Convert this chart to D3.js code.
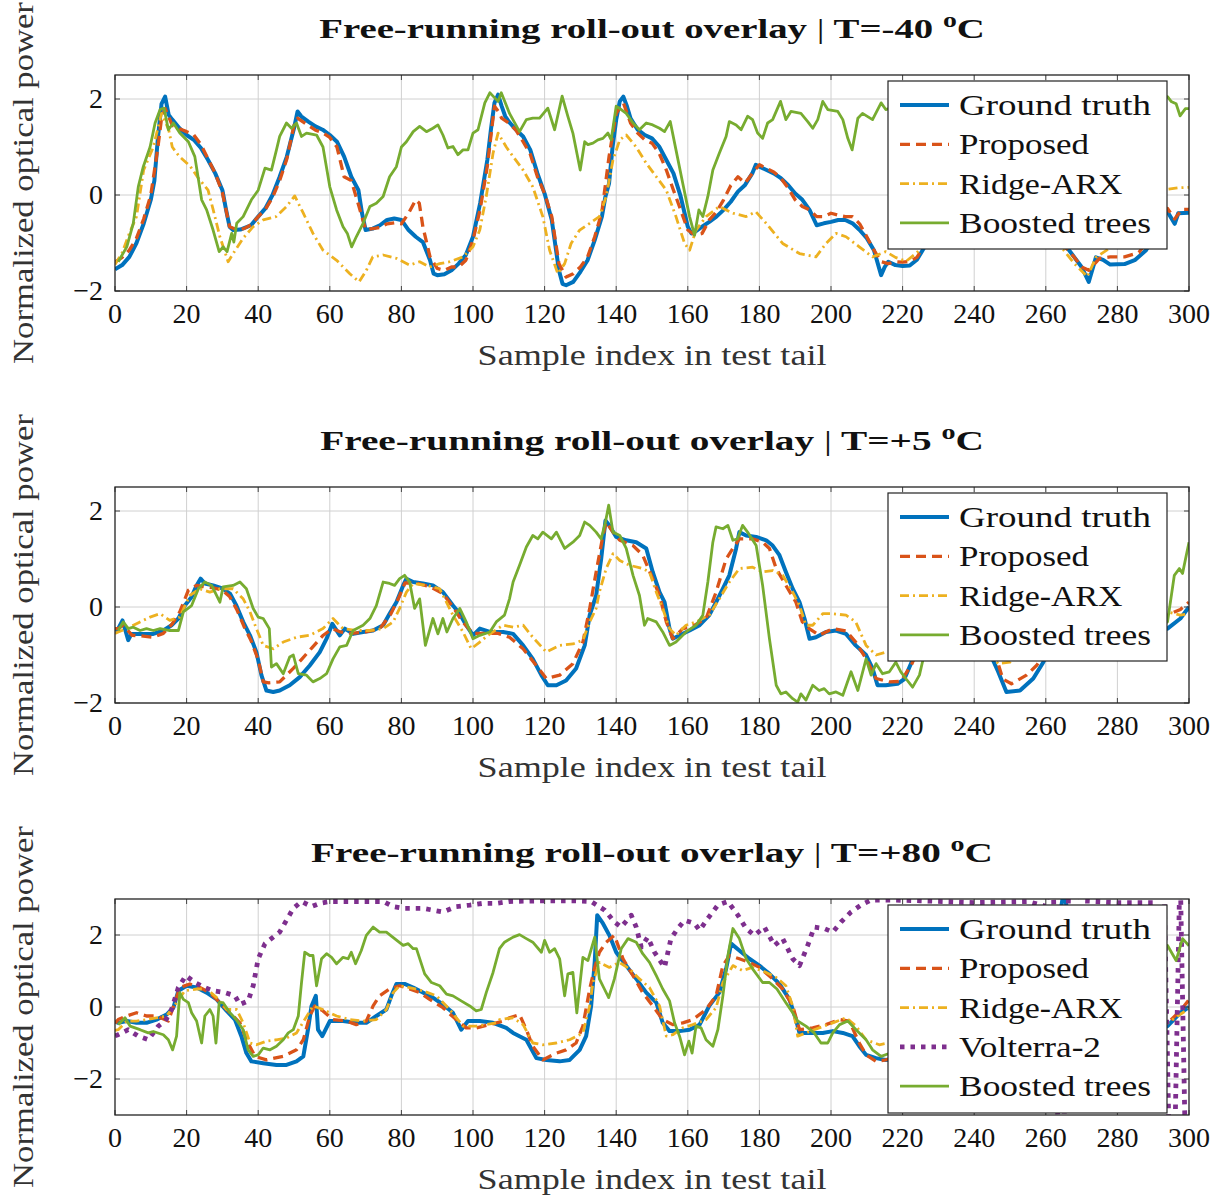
<!DOCTYPE html>
<html>
<head>
<meta http-equiv="Content-Type" content="text/html; charset=utf-8">
<script src="https://cdnjs.cloudflare.com/ajax/libs/d3/7.8.5/d3.min.js"></script>
<style>
  body { margin: 0; background: #fff; }
  text { font-family: "Liberation Serif", "DejaVu Serif", serif; fill: #111; }
</style>
</head>
<body>
<div class="chart"></div>
<script>
// ---------------------------------------------------------------- DATA
// points are [sample index, normalized power]

var xTicks = [0, 20, 40, 60, 80, 100, 120, 140, 160, 180, 200, 220, 240, 260, 280, 300];
var titles = ["T=-40 ", "T=+5 ", "T=+80 "];
var xLabel = "Sample index in test tail";
var yLabel = "Normalized optical power";

// ---- T = -40 C
var gt40 = [[0,-1.55],[2,-1.46],[4,-1.29],[6,-1.0],[8,-0.6],[10,-0.1],[11,0.3],[12,1.2],[13,1.9],[14,2.05],[15,1.67],[16,1.57],[18,1.39],[20,1.25],[22,1.15],[24,0.98],[26,0.73],[28,0.45],[30,0.1],[31,-0.3],[32,-0.66],[33,-0.73],[35,-0.72],[38,-0.63],[40,-0.45],[42,-0.28],[44,0],[46,0.38],[48,0.8],[50,1.39],[51,1.74],[52,1.64],[54,1.53],[56,1.43],[58,1.36],[60,1.25],[62,1.11],[64,0.8],[66,0.38],[68,0.1],[69,-0.38],[70,-0.73],[72,-0.7],[74,-0.63],[76,-0.52],[78,-0.49],[80,-0.52],[82,-0.73],[84,-0.87],[86,-0.98],[88,-1.36],[89,-1.64],[90,-1.67],[92,-1.65],[94,-1.57],[96,-1.43],[98,-1.25],[100,-0.87],[102,-0.17],[104,0.73],[105,1.36],[106,1.92],[107,2.09],[108,1.85],[109,1.64],[110,1.53],[112,1.36],[114,1.22],[116,0.94],[118,0.45],[120,0.03],[122,-0.52],[124,-1.57],[125,-1.85],[126,-1.88],[128,-1.81],[130,-1.6],[132,-1.36],[134,-0.94],[136,-0.45],[137,-0.03],[138,0.24],[139,1.01],[140,1.57],[141,1.95],[142,2.05],[143,1.85],[144,1.6],[146,1.36],[148,1.25],[150,1.18],[152,1.01],[154,0.73],[156,0.45],[158,-0.03],[160,-0.66],[161,-0.8],[162,-0.77],[164,-0.66],[166,-0.56],[168,-0.45],[170,-0.31],[172,-0.14],[174,0.07],[176,0.21],[178,0.45],[179,0.63],[180,0.59],[182,0.52],[184,0.45],[186,0.35],[188,0.21],[190,0.03],[192,-0.1],[194,-0.31],[196,-0.63],[198,-0.59],[200,-0.56],[202,-0.52],[204,-0.52],[206,-0.59],[208,-0.73],[210,-0.9],[212,-1.15],[214,-1.67],[215,-1.5],[216,-1.39],[218,-1.46],[220,-1.48],[222,-1.47],[224,-1.35],[226,-1.1],[230,-0.6],[235,-0.2],[240,0.1],[245,0.2],[250,-0.1],[255,-0.5],[260,-0.8],[265,-1.0],[268,-1.3],[270,-1.5],[272,-1.81],[274,-1.3],[276,-1.35],[278,-1.45],[282,-1.44],[285,-1.35],[288,-1.15],[290,-0.9],[293,-0.4],[294,-0.35],[296,-0.6],[297,-0.38],[300,-0.37]];
var prop40 = [[0,-1.4],[2,-1.3],[4,-1.15],[6,-0.9],[8,-0.5],[10,0.0],[12,1.0],[13,1.6],[14,1.8],[16,1.45],[18,1.38],[20,1.32],[22,1.25],[24,1.05],[26,0.75],[28,0.45],[30,0.05],[32,-0.66],[34,-0.72],[36,-0.7],[38,-0.62],[40,-0.45],[42,-0.3],[44,-0.05],[46,0.3],[48,0.75],[50,1.45],[51,1.6],[52,1.55],[54,1.45],[56,1.35],[58,1.3],[60,1.2],[62,1.0],[64,0.38],[66,0.3],[68,-0.2],[70,-0.72],[72,-0.7],[74,-0.68],[76,-0.6],[78,-0.58],[80,-0.6],[82,-0.38],[84,-0.1],[85,-0.17],[86,-0.66],[88,-1.29],[90,-1.53],[92,-1.57],[94,-1.5],[96,-1.5],[98,-1.36],[100,-0.94],[102,-0.3],[104,0.6],[106,1.85],[107,1.75],[108,1.6],[110,1.5],[112,1.35],[114,1.11],[116,0.85],[118,0.38],[120,0.03],[122,-0.45],[124,-1.43],[126,-1.71],[128,-1.64],[130,-1.5],[132,-1.29],[134,-0.87],[136,-0.35],[138,0.8],[140,1.7],[142,1.92],[144,1.5],[146,1.29],[148,1.15],[150,1.08],[152,0.87],[154,0.52],[156,0.1],[158,-0.31],[160,-0.73],[162,-0.84],[164,-0.8],[166,-0.52],[168,-0.35],[170,-0.1],[172,0.2],[174,0.38],[176,0.25],[178,0.45],[180,0.63],[182,0.55],[184,0.48],[186,0.35],[188,0.15],[190,-0.1],[192,-0.24],[194,-0.31],[196,-0.45],[198,-0.45],[200,-0.38],[202,-0.42],[204,-0.45],[206,-0.45],[208,-0.6],[210,-0.87],[212,-1.15],[214,-1.39],[216,-1.43],[218,-1.39],[220,-1.4],[222,-1.38],[224,-1.3],[226,-1.05],[230,-0.6],[240,0.0],[250,-0.15],[260,-0.8],[265,-1.05],[268,-1.3],[270,-1.5],[272,-1.57],[275,-1.32],[278,-1.29],[282,-1.29],[286,-1.2],[290,-0.8],[294,-0.28],[296,-0.5],[298,-0.3],[300,-0.3]];
var ridge40 = [[0,-1.45],[2,-1.2],[4,-0.8],[6,-0.45],[8,0.52],[10.7,1.0],[13,1.7],[15,1.36],[16,1.0],[18,0.8],[21,0.6],[23,0.38],[26,0.1],[27.4,-0.3],[29.3,-0.87],[31.6,-1.39],[33,-1.22],[35.8,-0.9],[38.6,-0.66],[41.4,-0.52],[45,-0.45],[47.9,-0.24],[50.2,-0.02],[52.6,-0.38],[55.3,-0.8],[58.1,-1.15],[61.9,-1.36],[65.6,-1.64],[68.2,-1.81],[70.2,-1.57],[72,-1.29],[74.9,-1.25],[78.6,-1.32],[82.3,-1.46],[85.1,-1.39],[87.9,-1.5],[90.7,-1.43],[93.5,-1.39],[97.2,-1.29],[100,-1.08],[101.9,-0.73],[103.7,-0.03],[105.6,0.87],[107,1.29],[109.3,1.0],[111.2,0.8],[114,0.52],[116.7,0.17],[119.5,-0.45],[121.4,-1.15],[123.7,-1.64],[125.6,-1.43],[127.4,-1.01],[129.8,-0.73],[132.6,-0.59],[135.3,-0.45],[137.2,-0.03],[139.1,0.73],[141,1.15],[142.8,1.25],[145.6,1.0],[148.4,0.66],[151.2,0.38],[154,0.1],[156.7,-0.45],[159.1,-1.01],[160.5,-1.15],[162.3,-0.73],[165.1,-0.45],[168.8,-0.24],[172.6,-0.38],[176.3,-0.45],[179,-0.35],[181.9,-0.59],[186.5,-1.01],[191.2,-1.22],[195.8,-1.29],[198.6,-1.01],[201.4,-0.8],[204.2,-0.87],[207.9,-1.08],[211.6,-1.29],[215.3,-1.18],[218,-1.3],[221,-1.38],[224,-1.2],[230,-0.7],[240,-0.3],[250,-0.5],[260,-0.9],[265,-1.15],[268,-1.43],[271.6,-1.7],[274,-1.3],[280,-1.0],[290,-0.2],[294,0.12],[297,0.15],[300,0.16]];
var boost40 = [[0.9,-1.39],[3.3,-1.08],[5.1,-0.59],[6.5,0.17],[7.9,0.59],[9.8,1.0],[11.2,1.5],[12.6,1.78],[13.7,1.81],[14.9,1.36],[16.3,1.5],[18.1,1.29],[20.5,1.11],[22.3,0.8],[24.2,-0.1],[25.6,-0.31],[27.4,-0.73],[29.1,-1.18],[30.2,-1.08],[31.3,-1.18],[32.6,-0.8],[33.2,-0.98],[34,-0.59],[35.8,-0.45],[38.1,-0.1],[40,0.1],[41.9,0.56],[43.7,0.52],[45.1,0.94],[46,1.22],[47.9,1.5],[49.3,1.39],[50.7,1.5],[52.1,1.22],[53.5,1.29],[56.3,1.25],[58.1,1.0],[60,0.17],[61.9,-0.31],[63.7,-0.66],[64.9,-0.8],[66.1,-1.08],[67.4,-0.87],[69.3,-0.59],[71.2,-0.24],[73,-0.17],[74.9,-0.03],[76.7,0.38],[78.6,0.59],[80,1.0],[81.4,1.11],[83.3,1.32],[85.1,1.43],[87,1.32],[88.8,1.39],[90.2,1.46],[91.6,1.25],[93,0.98],[94.4,1.01],[95.8,0.84],[97.2,0.94],[98.6,0.94],[100,1.29],[101.4,1.36],[103.3,1.92],[104.7,2.13],[105.6,2.06],[107,1.95],[107.9,2.13],[110.2,1.7],[113,1.32],[114.9,1.57],[116.7,1.6],[118.6,1.6],[120.9,1.81],[122.8,1.36],[124.9,2.06],[126.5,1.64],[127.9,1.29],[129.95,0.52],[131.2,1.11],[132.1,1.05],[133.5,1.08],[134.9,1.15],[136.3,1.18],[137.7,1.29],[138.6,1.15],[140,1.85],[141.4,1.78],[142.8,1.7],[144.7,1.5],[146.5,1.36],[148.4,1.5],[150.2,1.46],[152.1,1.39],[153.5,1.32],[155.1,1.53],[156.7,0.94],[158.6,0.24],[160.5,-0.45],[161.9,-0.84],[163.1,-0.31],[164.2,-0.45],[165.6,-0.03],[167,0.52],[168.8,0.87],[170.7,1.22],[171.6,1.53],[173.5,1.46],[174.9,1.36],[176.7,1.64],[178.1,1.57],[179.5,1.29],[180.9,1.18],[182.3,1.5],[183.7,1.57],[185.9,1.95],[187.4,1.57],[188.8,1.74],[191.6,1.7],[193.5,1.53],[194.9,1.39],[196.3,1.57],[197.7,1.95],[199.1,1.78],[201.9,1.74],[203.3,1.57],[204.7,1.18],[205.9,0.94],[207.5,1.6],[208.8,1.7],[211.6,1.57],[214,1.92],[215.3,1.78],[218,1.85],[222,1.7],[228,1.9],[235,1.6],[242,1.8],[250,1.95],[258,1.7],[265,1.85],[272,1.6],[280,1.9],[288,1.8],[292,2.0],[294,2.05],[295,1.95],[296.4,1.9],[297.5,1.65],[299,1.8],[300,1.8]];

// ---- T = +5 C
var gt5 = [[0,-0.5],[0.9,-0.45],[2.1,-0.28],[3.7,-0.69],[4.6,-0.56],[7.9,-0.56],[10.7,-0.56],[13.5,-0.49],[15.8,-0.38],[17.7,-0.24],[19.5,0.03],[21.4,0.21],[22.8,0.45],[23.9,0.59],[25.1,0.49],[27.4,0.45],[30.2,0.38],[32.1,0.28],[33.9,0.03],[35.8,-0.31],[37.7,-0.59],[39.5,-0.94],[40.9,-1.42],[42.3,-1.74],[44.2,-1.77],[46,-1.74],[48.8,-1.63],[51.6,-1.46],[54.4,-1.22],[57.2,-0.94],[59.1,-0.66],[60.7,-0.35],[62.8,-0.59],[64.2,-0.45],[66.5,-0.56],[69.3,-0.52],[72.1,-0.49],[74.9,-0.38],[76.7,-0.14],[78.6,0.1],[80.5,0.45],[81.4,0.59],[83.3,0.52],[86,0.49],[88.8,0.45],[91.6,0.31],[94.4,0.03],[96.3,-0.14],[98.1,-0.38],[100,-0.59],[101.9,-0.45],[104.7,-0.52],[108.4,-0.52],[111.2,-0.56],[114,-0.8],[116.7,-1.08],[119.1,-1.42],[120.9,-1.63],[123.3,-1.63],[126,-1.53],[128.8,-1.28],[131.2,-0.8],[132.6,-0.17],[134.4,0.24],[135.8,1.0],[137,1.8],[138.1,1.7],[140,1.46],[142.8,1.39],[145.6,1.35],[148.4,1.22],[150.2,0.73],[152.1,0.31],[153.5,0.1],[154.9,-0.45],[155.8,-0.66],[157.7,-0.59],[160.5,-0.49],[163.3,-0.38],[166,-0.17],[167.9,0.1],[169.8,0.38],[171.6,0.66],[173.5,1.22],[174.4,1.56],[176.3,1.49],[179.1,1.46],[181.9,1.39],[183.7,1.28],[185.6,1.08],[187.4,0.73],[189.3,0.38],[191.2,0.1],[192.6,-0.24],[194,-0.66],[195.8,-0.63],[198.6,-0.52],[201.4,-0.49],[204.2,-0.56],[206.9,-0.8],[209.8,-1.0],[211.6,-1.28],[213,-1.63],[215.3,-1.63],[218.6,-1.6],[220.5,-1.5],[222.5,-1.15],[226,-0.6],[230,-0.2],[235,0.1],[240,-0.3],[244,-0.9],[246.7,-1.35],[249,-1.77],[252.8,-1.74],[256.5,-1.49],[259.3,-1.15],[262,-0.7],[266,-0.2],[272,0.0],[278,-0.3],[284,-0.5],[290,-0.55],[294,-0.45],[297.6,-0.24],[300,0.0]];
var prop5 = [[0,-0.45],[0.9,-0.45],[2.3,-0.38],[4.8,-0.59],[7,-0.6],[10.7,-0.63],[13.5,-0.55],[16,-0.35],[18.1,-0.1],[20.5,0.35],[22.8,0.45],[25,0.42],[27.5,0.4],[30,0.35],[32,0.22],[34,-0.05],[36,-0.4],[38,-0.7],[40,-1.1],[41.4,-1.56],[43,-1.58],[46,-1.56],[49.8,-1.28],[52,-1.1],[55,-0.85],[58,-0.6],[60.7,-0.45],[63,-0.52],[66,-0.55],[70,-0.52],[74,-0.45],[77,-0.15],[79,0.15],[81,0.5],[84,0.5],[88,0.42],[91.6,0.28],[94.4,0.0],[97,-0.3],[100,-0.55],[103,-0.55],[107,-0.55],[110.2,-0.63],[114,-0.87],[117.7,-1.22],[120.5,-1.49],[124.2,-1.42],[127.9,-1.18],[130.7,-0.73],[132.6,-0.03],[134.4,0.73],[136.3,1.49],[137.2,1.77],[139.1,1.56],[141,1.39],[144.7,1.28],[147.4,1.08],[150.2,0.59],[152.1,0.24],[154,-0.31],[155.8,-0.66],[158.6,-0.45],[161.4,-0.4],[165.1,-0.24],[167.9,0.31],[170.7,1.0],[172.6,1.22],[174.4,1.42],[178.1,1.42],[180.9,1.35],[182.8,1.22],[184.7,0.8],[187.4,0.45],[190.2,0.1],[192,-0.31],[193.9,-0.45],[196.7,-0.59],[200.5,-0.45],[204.2,-0.5],[206.9,-0.73],[209.8,-1.08],[212.6,-1.49],[216.3,-1.56],[219.5,-1.55],[222.5,-1.2],[226,-0.6],[232,-0.1],[238,-0.2],[244,-0.8],[246.7,-1.18],[248,-1.5],[250.4,-1.6],[254.6,-1.42],[257.4,-1.22],[262,-0.7],[270,-0.1],[280,-0.3],[290,-0.4],[294,-0.17],[297.6,-0.05],[300,0.1]];
var ridge5 = [[0,-0.55],[0.9,-0.52],[3.3,-0.45],[7,-0.31],[9.8,-0.21],[12.6,-0.14],[15.3,-0.28],[18.1,-0.21],[20.9,0.24],[23.7,0.38],[26.5,0.31],[29.3,0.38],[33,0.38],[35.8,0.17],[37.7,-0.1],[39.5,-0.45],[41.4,-0.8],[44.2,-0.87],[47,-0.73],[50.7,-0.63],[54.4,-0.59],[58.1,-0.45],[60.9,-0.24],[63.7,-0.45],[67.4,-0.49],[71.2,-0.49],[74.9,-0.45],[77.7,-0.31],[79.5,-0.03],[81.4,0.31],[83.3,0.49],[87,0.45],[90.7,0.38],[94.4,-0.17],[97.2,-0.52],[99.5,-0.87],[101.9,-0.73],[104.7,-0.56],[108.4,-0.38],[111.2,-0.42],[114,-0.38],[116.7,-0.63],[120.5,-0.94],[124.2,-0.8],[127.9,-0.77],[130.7,-0.69],[132.6,-0.31],[134.4,-0.03],[135.3,0.31],[137.2,0.8],[139.1,1.11],[141,0.97],[143.7,0.87],[147.4,0.8],[149.3,0.73],[151.2,0.31],[153,-0.03],[154.9,-0.45],[156.7,-0.59],[159.5,-0.38],[162.3,-0.31],[166,-0.17],[168.8,0.17],[171.6,0.52],[174.4,0.8],[178.1,0.83],[180.9,0.73],[183.7,0.76],[186.5,0.66],[189.3,0.31],[191.2,0.03],[193,-0.38],[194.9,-0.38],[197.7,-0.14],[200.5,-0.14],[204.2,-0.17],[206.9,-0.31],[209.8,-0.8],[212.6,-1.0],[215.3,-0.94],[218,-0.9],[222,-0.8],[230,-0.3],[240,-0.6],[246.7,-1.18],[250,-1.15],[255,-0.8],[262,-0.4],[272,-0.2],[282,-0.2],[290,-0.2],[294,-0.1],[297.6,-0.17],[300,-0.14]];
var boost5 = [[0.9,-0.49],[2.3,-0.31],[3.7,-0.45],[5.1,-0.42],[7,-0.49],[8.8,-0.45],[10.7,-0.49],[12.6,-0.45],[15.3,-0.49],[17.7,-0.49],[19.1,-0.1],[21.4,0.03],[23.3,0.38],[25.1,0.52],[27,0.45],[29.3,0.1],[30.2,0.42],[33,0.45],[34.9,0.52],[36.7,0.38],[38.6,-0.03],[40,-0.21],[41.4,-0.24],[43.1,-0.45],[43.7,-1.25],[45.1,-1.18],[47,-1.39],[48.8,-1.04],[49.8,-1.0],[51.2,-1.39],[53.5,-1.42],[55.3,-1.56],[57.2,-1.49],[59.1,-1.39],[60.9,-1.08],[62.8,-0.83],[64.7,-0.8],[66.5,-0.49],[69.3,-0.38],[71.2,-0.24],[73,0.03],[74.9,0.52],[76.7,0.49],[78.1,0.45],[79.5,0.59],[80.9,0.66],[82.3,0.52],[83.7,-0.03],[85.1,0.17],[86.7,-0.8],[88.8,-0.24],[90.2,-0.56],[91.6,-0.24],[92.7,-0.52],[94.4,-0.24],[96.3,-0.03],[98.1,-0.31],[100,-0.66],[101.9,-0.59],[104.7,-0.52],[106.5,-0.31],[108.8,-0.17],[110.2,0.17],[111.2,0.52],[113,0.87],[114.9,1.25],[116.7,1.49],[118.1,1.42],[119.5,1.56],[121.9,1.42],[123.3,1.56],[125.6,1.22],[127.9,1.35],[129.8,1.49],[131.2,1.77],[132.6,1.7],[134.4,1.56],[135.8,1.42],[137,1.77],[137.9,2.12],[139.1,1.56],[141,1.49],[142.8,1.22],[144.7,0.66],[146.5,0.24],[147.9,-0.38],[148.8,-0.24],[151.2,-0.31],[153,-0.52],[154.9,-0.8],[156.7,-0.73],[159.5,-0.52],[162.3,-0.38],[164.2,-0.17],[165.6,0.52],[167,1.35],[167.9,1.67],[169.8,1.63],[171.2,1.7],[172.6,1.39],[173.9,1.42],[175.3,1.7],[176.7,1.56],[179.1,1.28],[180.9,0.45],[182.8,-0.66],[184.7,-1.63],[186,-1.81],[187.4,-1.77],[189.3,-1.91],[190.7,-1.98],[191.6,-1.81],[193,-1.94],[194.9,-1.63],[196.7,-1.74],[198.1,-1.7],[199.5,-1.81],[201.4,-1.77],[203.3,-1.84],[205.6,-1.35],[207.5,-1.74],[209.8,-1.08],[211.2,-1.42],[212.6,-1.18],[214.4,-1.39],[216.3,-1.35],[218.1,-1.15],[219.5,-1.35],[221,-1.5],[222.8,-1.67],[224.7,-1.42],[226,-1.0],[232,-0.5],[240,-0.7],[248,-1.0],[256,-0.6],[265,-0.3],[275,-0.5],[285,-0.4],[292,-0.4],[294,-0.31],[295.9,0.66],[297.3,0.8],[298.2,0.7],[300,1.35]];

// ---- T = +80 C
var gt80 = [[0,-0.4],[0.9,-0.44],[3.3,-0.39],[6,-0.44],[8.8,-0.44],[11.6,-0.35],[14.4,-0.21],[16.3,-0.02],[17.7,0.45],[20,0.59],[22.8,0.54],[25.6,0.4],[28.4,0.21],[31.2,-0.11],[33.5,-0.35],[35.3,-0.81],[36.7,-1.28],[38.1,-1.51],[41.4,-1.56],[45.1,-1.61],[47.9,-1.61],[50.7,-1.51],[52.6,-1.37],[53.9,-0.63],[54.9,0.03],[56.1,0.31],[56.7,-0.63],[57.9,-0.81],[60,-0.39],[63.7,-0.39],[67.4,-0.44],[70.2,-0.44],[73,-0.25],[75.8,-0.07],[77.2,0.31],[78.6,0.64],[80.9,0.64],[83.3,0.54],[86,0.4],[88.8,0.26],[91.6,0.07],[94.4,-0.16],[96.7,-0.63],[98.6,-0.39],[101.9,-0.39],[105.6,-0.44],[109.3,-0.58],[111.2,-0.72],[114.9,-0.91],[117.7,-1.42],[120.5,-1.47],[124.2,-1.51],[127,-1.47],[129.8,-1.19],[131.6,-0.81],[133,0.03],[134,1.25],[134.7,2.55],[136.3,2.32],[138.1,1.99],[140,1.52],[142.8,1.15],[145.6,0.78],[148.4,0.4],[151.2,0.12],[153,-0.44],[154.9,-0.67],[157.7,-0.67],[160.5,-0.63],[163.3,-0.49],[166,0.03],[168.8,0.4],[170.7,1.06],[172.1,1.76],[174.4,1.57],[177.2,1.34],[180,1.15],[182.8,0.92],[185.6,0.64],[188.4,0.21],[190.2,-0.35],[191.2,-0.72],[193.9,-0.72],[197.7,-0.72],[200.5,-0.67],[203.3,-0.72],[206,-0.81],[207.9,-1.09],[209.8,-1.33],[212.6,-1.42],[215.3,-1.47],[220,-1.4],[226,-0.9],[232,-0.4],[240,-0.2],[248,-0.6],[255,-0.3],[260,0.5],[263,2.0],[265,3.2],[267,2.2],[270,1.0],[276,0.2],[282,-0.3],[288,-0.7],[292,-0.6],[294,-0.53],[297.6,-0.16],[300,0]];
var prop80 = [[0,-0.45],[0.9,-0.35],[3.3,-0.25],[6,-0.16],[8.8,-0.25],[11.6,-0.25],[14.9,-0.39],[16.7,0.12],[18.1,0.54],[20.9,0.64],[23.7,0.54],[26.5,0.4],[29.3,0.12],[32.1,-0.16],[34.9,-0.44],[36.7,-0.91],[39.1,-1.37],[42.3,-1.47],[47,-1.37],[50.7,-1.19],[52.6,-0.91],[54.4,-0.25],[55.8,0.03],[58.1,-0.11],[60.9,-0.35],[64.7,-0.39],[67.4,-0.49],[70.2,-0.39],[72.1,0.03],[73.9,0.31],[76.7,0.5],[79.5,0.59],[82.3,0.5],[85.1,0.4],[87.9,0.21],[91.6,-0.02],[95.3,-0.35],[98.1,-0.58],[100.9,-0.58],[104.7,-0.49],[108.4,-0.39],[110.2,-0.3],[113,-0.21],[114.9,-0.63],[116.7,-1.09],[119.5,-1.47],[123.3,-1.28],[126,-1.19],[128.8,-1.0],[130.7,-0.53],[132.6,0.5],[134,1.1],[135.3,1.52],[137.2,1.8],[139.5,1.99],[141.9,1.34],[144.7,0.87],[147.4,0.4],[150.2,0.03],[153,-0.35],[155.8,-0.49],[158.6,-0.44],[161.4,-0.35],[165.1,-0.07],[167.9,0.31],[169.8,1.15],[171.6,1.43],[174.4,1.34],[177.2,1.24],[180,1.1],[183.7,0.78],[186.5,0.5],[189.3,0.03],[191.2,-0.63],[194.9,-0.58],[198.6,-0.49],[202.4,-0.35],[205.1,-0.39],[207.9,-1.0],[209.8,-1.33],[212.6,-1.51],[215.3,-1.47],[220,-1.35],[226,-0.9],[232,-0.4],[240,-0.3],[250,-0.5],[258,-0.3],[262,1.0],[265,2.5],[268,1.6],[272,0.6],[280,-0.2],[288,-0.6],[292,-0.5],[294,-0.45],[297.6,-0.1],[300,0.2]];
var ridge80 = [[0,-0.65],[0.9,-0.63],[3.3,-0.39],[6,-0.39],[8.8,-0.35],[11.6,-0.3],[14.4,-0.25],[17.2,0.12],[19.5,0.45],[22.8,0.5],[25.6,0.5],[28.4,0.26],[31.2,-0.07],[34,-0.07],[35.8,-0.44],[37.7,-1.0],[39.5,-1.05],[42.3,-0.95],[45.1,-0.91],[47.9,-0.86],[50.7,-0.72],[53,-0.35],[55.3,0.03],[58.1,-0.07],[61.9,-0.25],[65.6,-0.35],[69.3,-0.39],[73,-0.35],[75.8,-0.07],[77.7,0.4],[79.5,0.59],[82.3,0.54],[86,0.45],[89.8,0.31],[93.5,-0.07],[97.2,-0.53],[100.9,-0.53],[103.7,-0.49],[106.5,-0.44],[107.4,-0.35],[111.2,-0.3],[114,-0.49],[116.7,-1.0],[119.5,-1.05],[123.3,-1.0],[127,-0.91],[130.7,-0.72],[132.6,0.03],[133.5,0.68],[135.3,1.24],[138.1,1.1],[140.9,1.24],[143.7,1.06],[146.5,0.78],[149.3,0.54],[152.1,0.03],[154,-0.81],[155.8,-0.77],[158.6,-0.58],[161.4,-0.49],[165.1,-0.35],[167.9,-0.02],[169.8,0.68],[172.6,1.15],[175.3,1.01],[178.1,1.1],[181.9,0.96],[184.7,0.82],[187.4,0.59],[189.3,0.03],[190.7,-0.81],[193,-0.72],[196.7,-0.58],[200.5,-0.44],[204.2,-0.3],[207,-0.53],[209.8,-0.91],[213.5,-1.05],[216,-1.0],[222,-0.9],[230,-0.5],[240,-0.3],[250,-0.4],[258,-0.3],[263,0.8],[266,1.5],[270,0.8],[280,0.0],[290,-0.5],[294,-0.45],[297.6,-0.2],[300,-0.05]];
var volt80 = [[0,-0.8],[0.9,-0.77],[3.7,-0.63],[6.5,-0.81],[9.3,-0.91],[12.1,-0.53],[14,-0.39],[15.8,-0.07],[17.7,0.54],[19.8,0.87],[22.3,0.68],[25.1,0.54],[27.4,0.45],[30.7,0.4],[33.5,0.31],[34.9,0.07],[37.2,0.17],[38.6,0.59],[40,1.34],[41.9,1.76],[44.2,1.94],[46,2.08],[47.9,2.41],[49.8,2.74],[52.1,2.93],[54.9,2.79],[57.2,2.88],[60,2.93],[65,2.93],[70,2.93],[75,2.93],[77.7,2.79],[80.5,2.74],[86,2.74],[91.6,2.64],[95.3,2.79],[99.1,2.83],[102.8,2.88],[106.5,2.88],[110,2.93],[120,2.95],[128,2.95],[133,2.93],[136.8,2.69],[139.5,2.36],[141.4,2.22],[144.2,2.55],[145.6,2.22],[147,1.66],[148.8,1.94],[150.7,1.52],[153.5,1.1],[155.3,1.9],[157.2,2.18],[159.1,2.41],[161.9,2.32],[163.3,2.13],[165.6,2.46],[168.4,2.83],[171.2,2.93],[174,2.55],[176.3,2.18],[178.6,1.99],[181.4,2.22],[184.2,1.71],[186.5,1.9],[189.3,1.34],[191.2,1.15],[193.5,1.71],[195.3,2.22],[198.1,2.18],[200.5,2.08],[202.8,2.36],[205.6,2.64],[208.4,2.83],[211.2,2.97],[216.7,2.97],[225,2.95],[240,2.9],[255,2.93],[260,2.8],[262,4],[263.5,-4],[265,-4],[266.5,4],[270,2.95],[280,2.9],[290,2.9],[293,3.5],[294.5,-4],[296,-4],[297.5,4],[299,-4],[300,-4]];
var boost80 = [[0.9,-0.49],[2.8,-0.3],[4.2,-0.53],[7,-0.63],[9.3,-0.72],[10.7,-0.68],[13.5,-0.77],[14.9,-0.91],[16.1,-1.19],[17.2,-0.81],[18.1,0.4],[19.1,0.21],[20.5,0.12],[21.4,-0.16],[22.8,-0.39],[24.2,-1.0],[25.1,-0.25],[26.5,-0.07],[27.4,-0.25],[28.2,-1.0],[29.1,0.12],[30.2,0.12],[32.1,-0.16],[33.9,-0.35],[35.8,-0.63],[37.2,-1.19],[38.6,-1.37],[40,-1.33],[41.4,-1.14],[43.3,-1.19],[45.1,-1.09],[47,-0.91],[48.4,-0.72],[49.8,-0.63],[51.2,-0.25],[52.1,0.68],[53,1.52],[54.4,1.43],[55.3,1.43],[56.3,0.59],[57.7,1.34],[59.1,1.48],[60.5,1.38],[61.9,1.2],[63.7,1.38],[65.1,1.34],[66,1.52],[67.2,1.2],[68.8,1.57],[70.2,1.99],[72.1,2.22],[73.9,2.08],[75.8,2.08],[78.1,1.9],[80.5,1.71],[81.9,1.76],[83.3,1.62],[84.2,1.62],[86.5,0.92],[88.4,0.68],[90.7,0.59],[92.6,0.36],[94.4,0.31],[96.7,0.17],[99.1,0.03],[100.9,-0.11],[102.3,-0.07],[103.7,0.4],[105.6,0.96],[107.4,1.62],[108.8,1.8],[111.2,1.94],[113,2.01],[114.9,1.9],[116.7,1.8],[119.1,1.52],[120,1.85],[121.4,1.52],[122.8,1.62],[124.2,1.34],[125.6,0.31],[126.5,0.92],[127.9,0.96],[129,-0.16],[130.7,1.38],[132.1,1.29],[134,1.94],[135.3,0.78],[136.7,0.5],[137.9,0.26],[139.5,0.78],[141.4,1.62],[143.3,1.9],[145.6,1.8],[147.4,1.48],[149.3,1.24],[151.2,0.87],[153,0.5],[154.9,0.17],[156.3,-0.44],[157.7,-0.81],[159.1,-1.33],[160.3,-0.95],[161.2,-1.28],[162.3,-0.53],[163.7,-0.58],[165.1,-0.91],[167,-1.09],[168.4,-0.63],[169.8,0.31],[171.2,1.43],[172.6,2.18],[174.4,1.9],[176.3,1.34],[178.1,1.06],[180.9,0.68],[182.8,0.68],[184.9,0.5],[187.4,0.12],[189.3,-0.16],[190.7,-0.39],[193,-0.53],[195.3,-0.72],[197.2,-1.0],[199.1,-1.0],[200.5,-0.72],[202.4,-0.49],[204.7,-0.39],[207,-0.63],[209.8,-0.91],[211.6,-1.19],[214,-1.37],[216,-1.3],[222,-1.0],[230,-0.5],[240,0.2],[250,0.8],[260,1.2],[270,1.5],[280,1.6],[288,1.5],[292,1.6],[294,1.71],[296.4,1.29],[298.2,1.9],[300,1.7]];

// ---------------------------------------------------------------- STYLES
var styles = {
  "Ground truth":  { color: "#0072BD", width: 4.0, dash: null },
  "Proposed":      { color: "#D95319", width: 3.3, dash: "10,6" },
  "Ridge-ARX":     { color: "#EDB120", width: 2.8, dash: "9,4,2,4" },
  "Volterra-2":    { color: "#7E2F8E", width: 4.8, dash: "4.5,6" },
  "Boosted trees": { color: "#77AC30", width: 2.8, dash: null }
};

var panels = [
  { title: titles[0], top: 75,  yDomain: [-2, 2.5], yTicks: [-2, 0, 2],
    series: [["Ground truth", gt40], ["Proposed", prop40], ["Ridge-ARX", ridge40], ["Boosted trees", boost40]] },
  { title: titles[1], top: 487, yDomain: [-2, 2.5], yTicks: [-2, 0, 2],
    series: [["Ground truth", gt5], ["Proposed", prop5], ["Ridge-ARX", ridge5], ["Boosted trees", boost5]] },
  { title: titles[2], top: 899, yDomain: [-3, 3], yTicks: [-2, 0, 2],
    series: [["Ground truth", gt80], ["Proposed", prop80], ["Ridge-ARX", ridge80], ["Volterra-2", volt80], ["Boosted trees", boost80]] }
];

// ---------------------------------------------------------------- SVG
var width = 1229, height = 1200;
var left = 115, right = 1189, plotH = 216;

var svg = d3.select("div.chart").append("svg")
  .attr("width", width)
  .attr("height", height);

var x = d3.scaleLinear().domain([0, 300]).range([left, right]);

// stretch a text horizontally so it covers the width it has in the figure
function fit(sel, target) {
  var w = sel.node().getBBox().width;
  return w > 0 ? target / w : 1;
}

panels.forEach(function(p, i) {
  var top = p.top, bottom = top + plotH;
  var y = d3.scaleLinear().domain(p.yDomain).range([bottom, top]);
  var g = svg.append("g");

  // grid
  g.selectAll("line.gx").data(xTicks.slice(1, -1)).enter().append("line")
    .attr("x1", d => x(d)).attr("x2", d => x(d))
    .attr("y1", top).attr("y2", bottom)
    .attr("stroke", "#d0d0d0").attr("stroke-width", 1);
  g.selectAll("line.gy").data(p.yTicks).enter().append("line")
    .attr("x1", left).attr("x2", right)
    .attr("y1", d => y(d)).attr("y2", d => y(d))
    .attr("stroke", "#d0d0d0").attr("stroke-width", 1);

  // lines, clipped to the axis box
  var clipId = "clip" + i;
  svg.append("clipPath").attr("id", clipId).append("rect")
    .attr("x", left).attr("y", top).attr("width", right - left).attr("height", plotH);

  var line = d3.line().x(d => x(d[0])).y(d => y(d[1]));
  var lines = g.append("g").attr("clip-path", "url(#" + clipId + ")");
  p.series.forEach(function(s) {
    var st = styles[s[0]];
    lines.append("path")
      .attr("d", line(s[1]))
      .attr("fill", "none")
      .attr("stroke", st.color)
      .attr("stroke-width", st.width)
      .attr("stroke-dasharray", st.dash)
      .attr("stroke-linejoin", "round");
  });

  // tick marks (inside, on all four sides)
  g.selectAll("line.tb").data(xTicks).enter().append("line")
    .attr("x1", d => x(d)).attr("x2", d => x(d))
    .attr("y1", bottom).attr("y2", bottom - 5)
    .attr("stroke", "#444");
  g.selectAll("line.tt").data(xTicks).enter().append("line")
    .attr("x1", d => x(d)).attr("x2", d => x(d))
    .attr("y1", top).attr("y2", top + 5)
    .attr("stroke", "#444");
  g.selectAll("line.tl").data(p.yTicks).enter().append("line")
    .attr("x1", left).attr("x2", left + 5)
    .attr("y1", d => y(d)).attr("y2", d => y(d))
    .attr("stroke", "#444");
  g.selectAll("line.tr").data(p.yTicks).enter().append("line")
    .attr("x1", right).attr("x2", right - 5)
    .attr("y1", d => y(d)).attr("y2", d => y(d))
    .attr("stroke", "#444");

  // box
  g.append("rect")
    .attr("x", left).attr("y", top).attr("width", right - left).attr("height", plotH)
    .attr("fill", "none").attr("stroke", "#222").attr("stroke-width", 1.3);

  // tick labels
  g.selectAll("text.xt").data(xTicks).enter().append("text")
    .attr("x", d => x(d)).attr("y", bottom + 32)
    .attr("text-anchor", "middle")
    .style("font-size", "28px")
    .text(d => d);
  g.selectAll("text.yt").data(p.yTicks).enter().append("text")
    .attr("x", left - 12).attr("y", d => y(d) + 9)
    .attr("text-anchor", "end")
    .style("font-size", "28px")
    .text(d => d < 0 ? "\u2212" + Math.abs(d) : d);

  // title
  var t = g.append("text")
    .attr("text-anchor", "middle")
    .style("font-size", "28px").style("font-weight", "bold");
  t.append("tspan").text("Free-running roll-out overlay ");
  t.append("tspan").style("font-weight", "normal").text("|");
  t.append("tspan").text(" " + p.title);
  t.append("tspan").attr("dy", -11).style("font-size", "20px").text("o");
  t.append("tspan").attr("dy", 11).text("C");
  var sT = fit(t, [666, 664, 682][i]);
  t.attr("transform", "translate(652," + (top - 37) + ") scale(" + sT + ",1)");

  // axis labels
  var xl = g.append("text").attr("text-anchor", "middle")
    .style("font-size", "30px").style("fill", "#333").text(xLabel);
  xl.attr("transform", "translate(652," + (bottom + 74) + ") scale(" + fit(xl, 349) + ",1)");

  var yl = g.append("text").attr("text-anchor", "middle")
    .style("font-size", "30px").style("fill", "#333").text(yLabel);
  yl.attr("transform", "translate(33," + (top + plotH / 2) + ") rotate(-90) scale(" + fit(yl, 362) + ",1)");

  // legend
  var n = p.series.length;
  var lg = g.append("g");
  lg.append("rect")
    .attr("x", 888).attr("y", top + 6)
    .attr("width", 279).attr("height", 8 + 40 * n)
    .attr("fill", "#fff").attr("stroke", "#222").attr("stroke-width", 1.2);
  var legendWidths = { "Ground truth": 192, "Proposed": 130, "Ridge-ARX": 164, "Volterra-2": 142, "Boosted trees": 192 };
  p.series.forEach(function(s, k) {
    var st = styles[s[0]];
    var cy = top + 30 + 39.3 * k;
    lg.append("line")
      .attr("x1", 900).attr("x2", 949).attr("y1", cy).attr("y2", cy)
      .attr("stroke", st.color).attr("stroke-width", st.width)
      .attr("stroke-dasharray", st.dash);
    var lt = lg.append("text").style("font-size", "30px").text(s[0]);
    lt.attr("transform", "translate(959," + (cy + 10) + ") scale(" + fit(lt, legendWidths[s[0]]) + ",1)");
  });
});
</script>
</body>
</html>
